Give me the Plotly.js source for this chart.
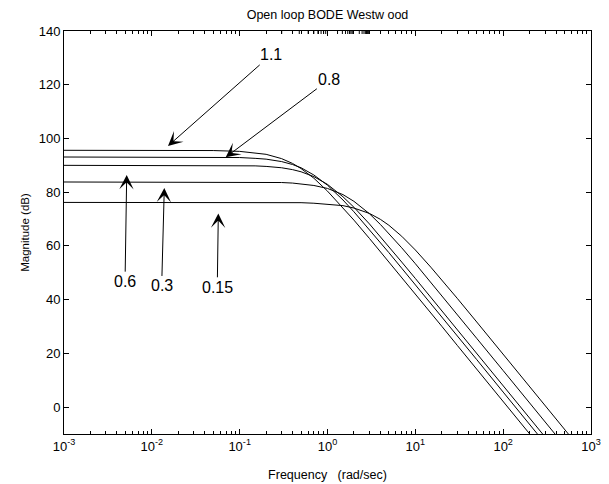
<!DOCTYPE html>
<html>
<head>
<meta charset="utf-8">
<script src="https://cdn.plot.ly/plotly-3.0.1.min.js"></script>
<style>
  html, body { margin: 0; padding: 0; background: #fff; }
  #chart { width: 609px; height: 484px; }
</style>
</head>
<body>
<div id="chart"></div>
<script>
// Frequency grid (rad/sec) shared by all magnitude curves
var freq = [0.001, 0.01, 0.05, 0.1, 0.15, 0.2, 0.3, 0.4, 0.5, 0.7, 1, 1.5, 2, 3, 4, 5, 7, 10, 15, 20, 30, 50, 100, 200, 300, 500, 700];

// Open-loop magnitude (dB) for each parameter value
var mag_1_1  = [95.6, 95.6, 95.5, 95.2, 94.7, 94.1, 92.5, 90.7, 88.8, 85.2, 80.4, 74.3, 69.6, 62.8, 57.9, 54.1, 48.3, 42.1, 35.1, 30.1, 23.0, 14.2, 2.1, -9.9, -17.0, -25.9, -31.7];
var mag_0_8  = [93.1, 93.1, 93.0, 92.9, 92.6, 92.3, 91.4, 90.3, 89.1, 86.4, 82.6, 77.1, 72.7, 66.1, 61.3, 57.5, 51.7, 45.6, 38.6, 33.6, 26.5, 17.7, 5.6, -6.4, -13.5, -22.3, -28.2];
var mag_0_6  = [90.0, 90.0, 90.0, 89.9, 89.8, 89.6, 89.1, 88.4, 87.6, 85.8, 82.9, 78.3, 74.4, 68.2, 63.5, 59.7, 54.0, 47.9, 40.9, 35.9, 28.9, 20.0, 8.0, -4.1, -11.1, -20.0, -25.8];
var mag_0_3  = [83.8, 83.8, 83.8, 83.8, 83.7, 83.7, 83.6, 83.4, 83.1, 82.5, 81.4, 79.1, 76.6, 72.0, 68.0, 64.6, 59.3, 53.4, 46.5, 41.5, 34.5, 25.6, 13.6, 1.6, -5.5, -14.3, -20.2];
var mag_0_15 = [76.2, 76.2, 76.2, 76.2, 76.2, 76.2, 76.1, 76.1, 76.1, 75.9, 75.6, 75.0, 74.1, 72.1, 69.9, 67.7, 63.6, 58.5, 52.1, 47.4, 40.5, 31.7, 19.7, 7.7, 0.6, -8.3, -14.1];

var curveLabels = ['1.1', '0.8', '0.6', '0.3', '0.15'];
var curves = [mag_1_1, mag_0_8, mag_0_6, mag_0_3, mag_0_15];

// Axis ticks
var xTickVals = [0.001, 0.01, 0.1, 1, 10, 100, 1000];
var xTickText = ['10<sup>-3</sup>', '10<sup>-2</sup>', '10<sup>-1</sup>', '10<sup>0</sup>', '10<sup>1</sup>', '10<sup>2</sup>', '10<sup>3</sup>'];
var yTickVals = [0, 20, 40, 60, 80, 100, 120, 140];

var FONT = 'Liberation Sans, Arial, sans-serif';
var PLOT_H = 484 - 31 - 50;

var traces = curves.map(function (m, i) {
  return {
    type: 'scatter',
    mode: 'lines',
    x: freq,
    y: m,
    name: curveLabels[i],
    line: { color: '#000', width: 1 },
    hoverinfo: 'skip'
  };
});

// Label callouts: arrow tip on the curve, text at the arrow tail
// positions are [log10 tip x, tip y, log10 text x, text y]
var callouts = [
  [-1.816, 97.2, -0.643, 131.1],
  [-1.159, 93.0,  0.021, 122.0],
  [-2.286, 86.4, -2.305, 46.7],
  [-1.858, 81.6, -1.888, 45.1],
  [-1.243, 72.1, -1.255, 44.6]
];
var annotations = callouts.map(function (c, i) {
  return {
    x: c[0], y: c[1], xref: 'x', yref: 'y',
    ax: c[2], ay: c[3], axref: 'x', ayref: 'y',
    text: curveLabels[i],
    showarrow: true,
    arrowhead: 3,
    arrowsize: 2.4,
    arrowwidth: 1,
    arrowcolor: '#000',
    font: { family: FONT, size: 16, color: '#000' }
  };
});

// Minor log ticks along the top frame edge (Plotly does not mirror minor ticks)
var topMinorTicks = [];
for (var d = -3; d < 3; d++) {
  for (var k = 2; k <= 9; k++) {
    var lx = d + Math.log10(k);
    topMinorTicks.push({
      type: 'line', xref: 'x', yref: 'paper',
      x0: lx, x1: lx, y0: 1, y1: 1 - 3 / PLOT_H,
      line: { color: '#000', width: 1 }
    });
  }
}

var layout = {
  width: 609,
  height: 484,
  margin: { l: 64, r: 18, t: 31, b: 50 },
  paper_bgcolor: '#fff',
  plot_bgcolor: '#fff',
  showlegend: false,
  font: { family: FONT, size: 12, color: '#000' },
  title: {
    text: 'Open loop BODE Westw ood',
    font: { family: FONT, size: 12.5, color: '#000' },
    x: 0.5, xref: 'paper', xanchor: 'center',
    y: 1 - 15 / 484, yanchor: 'middle'
  },
  xaxis: {
    type: 'log',
    range: [-3, 3],
    tickmode: 'array',
    tickvals: xTickVals,
    ticktext: xTickText,
    ticks: 'inside',
    ticklen: 5,
    tickcolor: '#000',
    tickfont: { family: FONT, size: 13, color: '#000' },
    minor: { dtick: 'D1', ticks: 'inside', ticklen: 3, tickcolor: '#000', showgrid: false },
    showline: true,
    linecolor: '#000',
    linewidth: 1,
    mirror: 'allticks',
    showgrid: false,
    zeroline: false,
    title: { text: 'Frequency\u00a0\u00a0\u00a0(rad/sec)', font: { family: FONT, size: 12.5, color: '#000' }, standoff: 17 }
  },
  yaxis: {
    range: [-10, 140],
    tickmode: 'array',
    tickvals: yTickVals,
    ticks: 'inside',
    ticklen: 5,
    tickcolor: '#000',
    tickfont: { family: FONT, size: 13, color: '#000' },
    showline: true,
    linecolor: '#000',
    linewidth: 1,
    mirror: 'allticks',
    showgrid: false,
    zeroline: false,
    title: { text: 'Magnitude (dB)', font: { family: FONT, size: 11.5, color: '#000' }, standoff: 6 }
  },
  shapes: topMinorTicks,
  annotations: annotations
};

Plotly.newPlot('chart', traces, layout, { staticPlot: true, displayModeBar: false });
</script>
</body>
</html>
